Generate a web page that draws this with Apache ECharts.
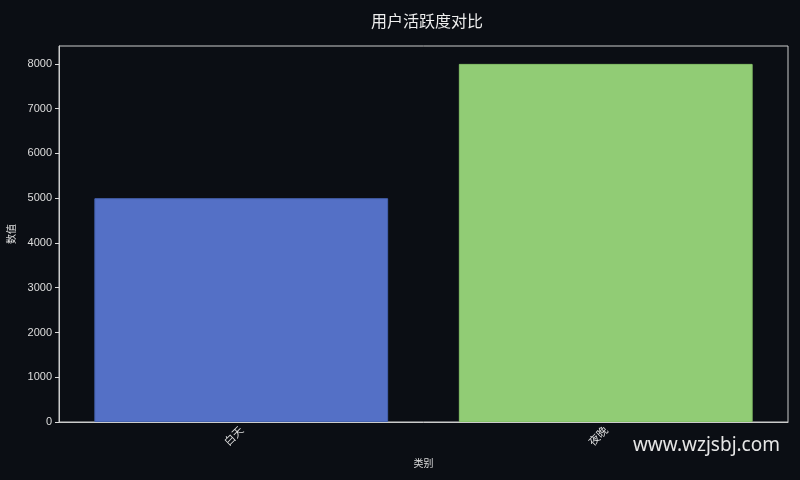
<!DOCTYPE html>
<html>
<head>
<meta charset="utf-8">
<script src="https://cdn.jsdelivr.net/npm/echarts@6/dist/echarts.min.js"></script>
<style>
  html, body { margin: 0; padding: 0; background: #0b0e14; }
  #main { width: 800px; height: 480px; }
</style>
</head>
<body>
<div id="main"></div>
<script>
// 数据
var categories = ['白天', '夜晚'];
var values = [5000, 8000];
var barColors = ['#5470c6', '#91cc75'];

var chart = echarts.init(document.getElementById('main'));

var option = {
  backgroundColor: '#0b0e14',
  textStyle: { fontFamily: '"Noto Sans CJK SC", "DejaVu Sans", sans-serif' },
  title: {
    text: '用户活跃度对比',
    left: 366,
    top: 8,
    textStyle: { color: '#eeeeee', fontSize: 16, fontWeight: 'normal' }
  },
  grid: {
    left: 59,
    right: 12,
    top: 46,
    bottom: 58,
    containLabel: false,
    outerBoundsMode: 'none',
    show: true,
    borderColor: '#cccccc',
    borderWidth: 1
  },
  xAxis: {
    type: 'category',
    data: categories,
    name: '类别',
    nameLocation: 'middle',
    nameGap: 36,
    nameTextStyle: { color: '#dddddd', fontSize: 10 },
    axisLine: { lineStyle: { color: '#cccccc' } },
    axisTick: { alignWithLabel: true, length: 4, lineStyle: { color: '#dddddd' } },
    axisLabel: { rotate: 45, color: '#dddddd', fontSize: 11, margin: 6 },
    splitLine: { show: false }
  },
  yAxis: {
    type: 'value',
    min: 0,
    max: 8400,
    interval: 1000,
    name: '数值',
    nameLocation: 'middle',
    nameGap: 36,
    nameTextStyle: { color: '#dddddd', fontSize: 10 },
    axisLine: { show: true, lineStyle: { color: '#cccccc' } },
    axisTick: { show: true, length: 4, lineStyle: { color: '#dddddd' } },
    axisLabel: {
      color: '#dddddd',
      fontSize: 11,
      margin: 7,
      showMaxLabel: false,
      formatter: function (v) { return String(v); },
      fontFamily: '"Liberation Sans", sans-serif'
    },
    splitLine: { show: false }
  },
  series: [{
    type: 'bar',
    barWidth: '80.6%',
    data: values.map(function (v, i) {
      return {
        value: v,
        itemStyle: { color: barColors[i], borderColor: i === 0 ? '#4562b0' : '#86c269', borderWidth: 1 }
      };
    })
  }],
  graphic: [{
    type: 'text',
    right: 20,
    top: 436,
    style: {
      text: 'www.wzjsbj.com',
      fill: '#e6e6e6',
      fontSize: 19,
      fontFamily: '"Noto Sans", sans-serif'
    }
  }]
};

chart.setOption(option);
</script>
</body>
</html>
